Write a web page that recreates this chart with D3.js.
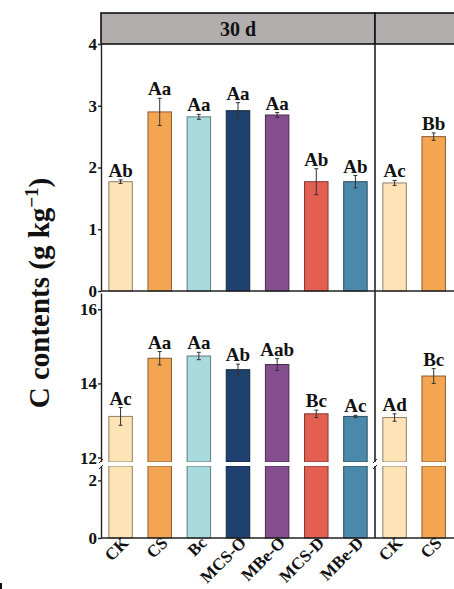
<!DOCTYPE html>
<html>
<head>
<meta charset="utf-8">
<script src="https://d3js.org/d3.v7.min.js"></script>
<style>
  body { margin: 0; background: #fff; }
  svg text { font-family: "Liberation Serif", "Times New Roman", serif; font-weight: bold; fill: #111; }
  .axis path, .axis line { stroke: #222; stroke-width: 1.4px; }
</style>
</head>
<body>
<script>
// treatments and colours
var categories = ["CK", "CS", "Bc", "MCS-O", "MBe-O", "MCS-D", "MBe-D"];
var colors = ["#fde3b6", "#f4a552", "#a9dadd", "#1e416f", "#844d8e", "#e35f52", "#4a89aa"];
var facets = ["30 d", ""];

// upper panel, facet 1 (30 d) and the visible part of facet 2
var topVals1 = [1.77, 2.90, 2.82, 2.92, 2.85, 1.77, 1.77];
var topErr1  = [0.03, 0.22, 0.04, 0.13, 0.04, 0.21, 0.10];
var topLab1  = ["Ab", "Aa", "Aa", "Aa", "Aa", "Ab", "Ab"];
var topVals2 = [1.75, 2.50];
var topErr2  = [0.04, 0.06];
var topLab2  = ["Ac", "Bb"];

// lower panel (broken axis)
var botVals1 = [13.11, 14.68, 14.74, 14.37, 14.51, 13.18, 13.11];
var botErr1  = [0.24, 0.18, 0.10, 0.15, 0.16, 0.10, 0.03];
var botLab1  = ["Ac", "Aa", "Aa", "Ab", "Aab", "Bc", "Ac"];
var botVals2 = [13.08, 14.20];
var botErr2  = [0.10, 0.20];
var botLab2  = ["Ad", "Bc"];

var topTicks = [0, 1, 2, 3, 4];
var upTicks = [12, 14, 16];
var lowTicks = [0, 2];

var W = 454, H = 589;
var svg = d3.select("body").append("svg").attr("width", W).attr("height", H);

var facetX = d3.scaleBand().domain([0, 1]).range([101, 649]);
var yTop = d3.scaleLinear().domain([0, 4]).range([291, 44]);
var yUp = d3.scaleLinear().domain([11.88, 16.44]).range([462, 293]);
var yLow = d3.scaleLinear().domain([0, 2.5]).range([538, 466]);

function xScale(f) {
  var x0 = facetX(f);
  return d3.scaleBand().domain(categories).range([x0, x0 + facetX.bandwidth()])
    .paddingInner(0.4).paddingOuter(0.2);
}

// header strip
facets.forEach(function(name, f) {
  var x0 = facetX(f);
  svg.append("rect").attr("x", x0).attr("y", 13).attr("width", facetX.bandwidth()).attr("height", 31)
    .attr("fill", "#b2aeae").attr("stroke", "#111").attr("stroke-width", 1.6);
  svg.append("text").attr("x", x0 + facetX.bandwidth() / 2).attr("y", 36)
    .attr("text-anchor", "middle").style("font-size", "20px").text(name);
});

function drawBars(f, vals, errs, labs, segments) {
  var x = xScale(f);
  var bw = x.bandwidth();
  vals.forEach(function(v, i) {
    var cx = x(categories[i]);
    var col = colors[i];
    segments.forEach(function(y) {
      var d = y.domain();
      var top = y(Math.min(v, d[1])), bot = y(d[0]);
      if (v <= d[0]) return;
      svg.append("rect").attr("x", cx).attr("y", top).attr("width", bw).attr("height", bot - top)
        .attr("fill", col).attr("stroke", d3.color(col).darker(1.6)).attr("stroke-width", 1);
    });
    var y = segments[0];
    var mid = cx + bw / 2;
    var e = d3.path();
    e.moveTo(mid, y(v - errs[i])); e.lineTo(mid, y(v + errs[i]));
    e.moveTo(mid - 2, y(v - errs[i])); e.lineTo(mid + 2, y(v - errs[i]));
    e.moveTo(mid - 2, y(v + errs[i])); e.lineTo(mid + 2, y(v + errs[i]));
    svg.append("path").attr("d", e.toString()).attr("stroke", "#333").attr("stroke-width", 1).attr("fill", "none");
    svg.append("text").attr("x", mid).attr("y", y(v + errs[i]) - 3)
      .attr("text-anchor", "middle").style("font-size", "19px").text(labs[i]);
  });
}

drawBars(0, topVals1, topErr1, topLab1, [yTop]);
drawBars(1, topVals2, topErr2, topLab2, [yTop]);
drawBars(0, botVals1, botErr1, botLab1, [yUp, yLow]);
drawBars(1, botVals2, botErr2, botLab2, [yUp, yLow]);

// y axes
function yAxis(y, ticks) {
  var g = svg.append("g").attr("class", "axis").attr("transform", "translate(101,0)")
    .call(d3.axisLeft(y).tickValues(ticks).tickSize(3).tickSizeOuter(0).tickFormat(d3.format("d")));
  g.selectAll("text").style("font-size", "17px").attr("x", -4);
  return g;
}
yAxis(yTop, topTicks);
yAxis(yUp, upTicks);
yAxis(yLow, lowTicks);

// facet divider lines and x axis lines
svg.append("line").attr("x1", facetX(1)).attr("x2", facetX(1)).attr("y1", 44).attr("y2", 538)
  .attr("stroke", "#222").attr("stroke-width", 1.6);
[yTop(0), yLow(0)].forEach(function(yy) {
  svg.append("line").attr("x1", 101).attr("x2", W).attr("y1", yy).attr("y2", yy)
    .attr("stroke", "#222").attr("stroke-width", 1.5);
});

// axis break
svg.append("rect").attr("x", 99).attr("y", 462).attr("width", W - 99).attr("height", 4).attr("fill", "#fff");
[101, facetX(1)].forEach(function(xx) {
  svg.append("path").attr("d", "M" + (xx - 2) + ",463 L" + (xx + 2) + ",459 M" + (xx - 2) + ",469 L" + (xx + 2) + ",465")
    .attr("stroke", "#222").attr("stroke-width", 1);
});

// x tick labels (second facet only shows its first two in the crop)
[[0, 7], [1, 2]].forEach(function(p) {
  var x = xScale(p[0]);
  categories.slice(0, p[1]).forEach(function(c) {
    var mid = x(c) + x.bandwidth() / 2;
    svg.append("text").attr("transform", "translate(" + (mid + 9) + "," + 544 + ") rotate(-45)")
      .attr("text-anchor", "end").style("font-size", "17px").text(c);
  });
});

// y title
svg.append("text").attr("transform", "translate(49,293) rotate(-90)")
  .attr("text-anchor", "middle").style("font-size", "29px")
  .text("C contents (g kg")
  .append("tspan").attr("dy", -11).style("font-size", "19px").text("\u22121")
  .select(function() { return this.parentNode; })
  .append("tspan").attr("dy", 11).style("font-size", "29px").text(")");

// small mark at the lower left corner
svg.append("rect").attr("x", 0).attr("y", 583).attr("width", 2).attr("height", 6).attr("fill", "#111");
</script>
</body>
</html>
